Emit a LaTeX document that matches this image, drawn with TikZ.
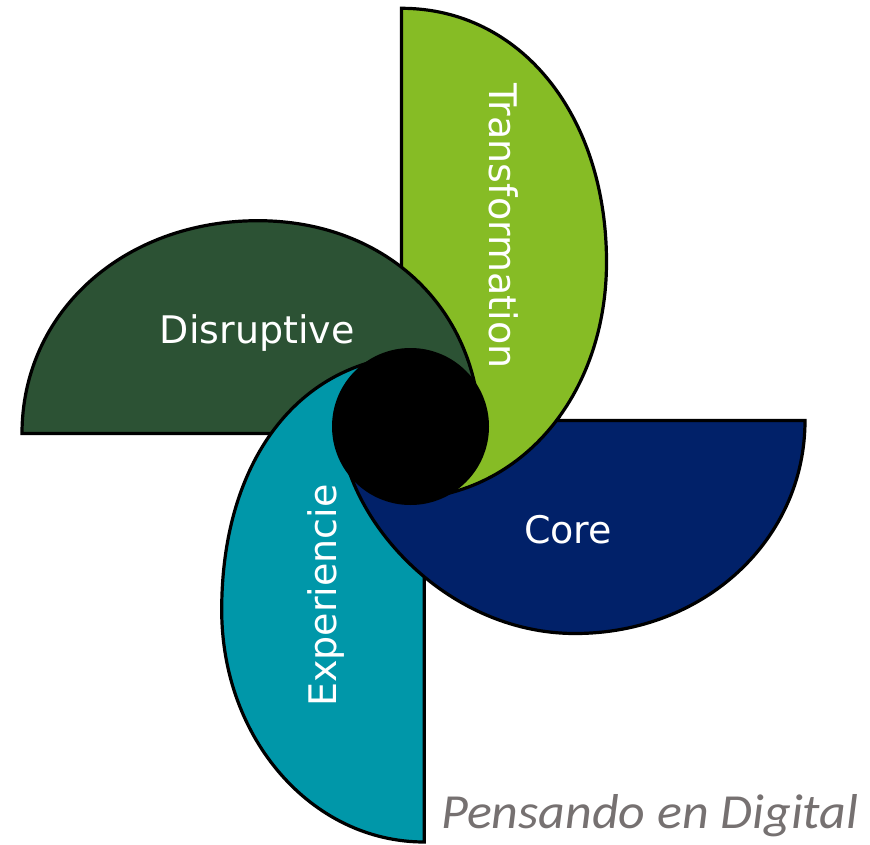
\documentclass[tikz,border=0pt]{standalone}
\usepackage{fontspec}
\setmainfont{DejaVu Sans}
\newfontfamily\carlito{Carlito}
\definecolor{tgreen}{HTML}{86BC25}
\definecolor{dkgreen}{HTML}{2C5234}
\definecolor{tteal}{HTML}{0097A9}
\definecolor{tnavy}{HTML}{012169}
\definecolor{sgray}{HTML}{767171}
\begin{document}
\begin{tikzpicture}[x=1pt,y=-1pt,
  petal/.style={draw=black,line width=3.2pt},
  lbl/.style={text=white,font=\fontsize{38}{40}\selectfont,inner sep=0pt}]
\useasboundingbox (0,0) rectangle (870,845);
\coordinate (C) at (410.5,426.5);
% green petal (Transformation)
\draw[petal,fill=tgreen] (401.5,8.3) .. controls (520.4,8.3) and (606.5,114.9) .. (606.5,262)
  .. controls (606.5,397.1) and (518.4,499) .. (401.5,499) -- cycle;
% dark green petal (Disruptive)
\draw[petal,fill=dkgreen] (22,433.5) .. controls (22,312.2) and (123.5,220.7) .. (258,220.7)
  .. controls (386.8,220.7) and (480,310.1) .. (480,433.5) -- cycle;
% teal petal (Experiencie)
\draw[petal,fill=tteal] (424.3,842) .. controls (311.9,842) and (221.7,738.8) .. (221.7,610)
  .. controls (221.7,457) and (302.7,355) .. (424.3,355) -- cycle;
% navy petal (Core)
\draw[petal,fill=tnavy] (805,420.5) .. controls (805,540) and (703.8,633.5) .. (575,633.5)
  .. controls (443.4,633.5) and (340,514.5) .. (340,420.5) -- cycle;
% green tip lying over the navy petal
\begin{scope}
\clip (410,417) rectangle (870,845);
\draw[petal,fill=tgreen] (401.5,8.3) .. controls (520.4,8.3) and (606.5,114.9) .. (606.5,262)
  .. controls (606.5,397.1) and (518.4,499) .. (401.5,499) -- cycle;
\end{scope}
% hub
\node[circle,fill=black,inner sep=0pt,minimum size=157pt] (hub) at (C) {};
% labels
\node[lbl,anchor=base west,rotate=-90] (tT) at (489,83) {Transformation};
\node[lbl,anchor=base west] (tD) at (159.6,343.3) {Disruptive};
\node[lbl,anchor=base west] (tC) at (523.9,543.3) {Core};
\node[lbl,anchor=base west,rotate=90] (tE) at (336.7,707) {Experiencie};
\node[anchor=base west,inner sep=0pt,xscale=1.06,text=sgray,font=\carlito\itshape\fontsize{49}{50}\selectfont] (tP) at (441,828) {Pensando en Digital};
\end{tikzpicture}
\end{document}
